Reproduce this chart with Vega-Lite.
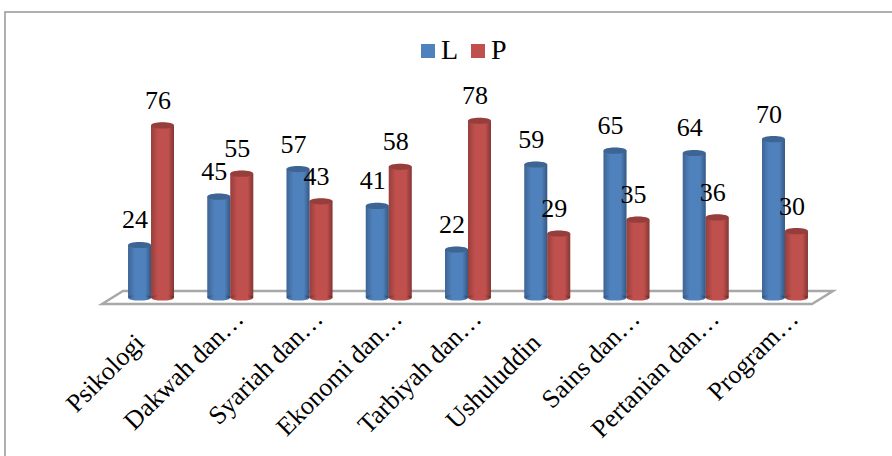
{
  "$schema": "https://vega.github.io/schema/vega-lite/v6.json",
  "autosize": {"type": "none"},
  "padding": {"left": 5, "top": 12, "right": 0, "bottom": 0},
  "width": 900,
  "height": 445,
  "background": "white",
  "view": {"stroke": "#969696", "strokeWidth": 1.5, "fill": "white"},
  "config": {"font": "Liberation Serif"},
  "datasets": {
    "counts": [
      {"fakultas": "Psikologi", "jk": "L", "n": 24},
      {"fakultas": "Psikologi", "jk": "P", "n": 76},
      {"fakultas": "Dakwah dan…", "jk": "L", "n": 45},
      {"fakultas": "Dakwah dan…", "jk": "P", "n": 55},
      {"fakultas": "Syariah dan…", "jk": "L", "n": 57},
      {"fakultas": "Syariah dan…", "jk": "P", "n": 43},
      {"fakultas": "Ekonomi dan…", "jk": "L", "n": 41},
      {"fakultas": "Ekonomi dan…", "jk": "P", "n": 58},
      {"fakultas": "Tarbiyah dan…", "jk": "L", "n": 22},
      {"fakultas": "Tarbiyah dan…", "jk": "P", "n": 78},
      {"fakultas": "Ushuluddin", "jk": "L", "n": 59},
      {"fakultas": "Ushuluddin", "jk": "P", "n": 29},
      {"fakultas": "Sains dan…", "jk": "L", "n": 65},
      {"fakultas": "Sains dan…", "jk": "P", "n": 35},
      {"fakultas": "Pertanian dan…", "jk": "L", "n": 64},
      {"fakultas": "Pertanian dan…", "jk": "P", "n": 36},
      {"fakultas": "Program…", "jk": "L", "n": 70},
      {"fakultas": "Program…", "jk": "P", "n": 30}
    ],
    "floor": [{"fakultas": "Tarbiyah dan…", "n": 0}]
  },
  "data": {"name": "counts"},
  "encoding": {
    "x": {
      "field": "fakultas",
      "type": "nominal",
      "title": null,
      "scale": {
        "domain": ["Psikologi", "Dakwah dan…", "Syariah dan…", "Ekonomi dan…", "Tarbiyah dan…", "Ushuluddin", "Sains dan…", "Pertanian dan…", "Program…"],
        "range": [106.4, 819.6],
        "paddingInner": 0.42,
        "paddingOuter": 0.21
      },
      "axis": {
        "offset": -152,
        "domain": false,
        "ticks": false,
        "labelAngle": -45,
        "labelAlign": "right",
        "labelBaseline": "top",
        "labelFont": "Liberation Serif",
        "labelFontSize": 26,
        "labelColor": "black",
        "labelLimit": 260,
        "labelOffset": {
          "condition": {"test": "datum.value === 'Psikologi' || datum.value === 'Ushuluddin'", "value": -20},
          "value": 0
        },
        "labelPadding": {
          "condition": {"test": "datum.value === 'Psikologi' || datum.value === 'Ushuluddin'", "value": 24},
          "value": 0
        },
        "grid": false
      }
    },
    "y": {
      "field": "n",
      "type": "quantitative",
      "title": null,
      "axis": null,
      "scale": {"domain": [0, 125.3], "range": [288.2, 0], "nice": false, "zero": true}
    }
  },
  "layer": [
    {
      "data": {"name": "floor"},
      "mark": {
        "type": "point",
        "filled": false,
        "size": 4,
        "shape": "M-366,3.8 L-345,-9.2 L365,-9.2 L344,3.8 Z",
        "stroke": "#a8a8a8",
        "strokeWidth": 2.5,
        "opacity": 1
      }
    },
    {
      "mark": {"type": "bar"},
      "encoding": {
        "y2": {"datum": 1.17},
        "xOffset": {"field": "jk", "type": "nominal", "sort": ["L", "P"]},
        "color": {
          "field": "jk",
          "type": "nominal",
          "scale": {"domain": ["L", "P"], "range": ["#4f81bd", "#c0504d"]},
          "legend": {
            "title": null,
            "orient": "none",
            "legendX": 409,
            "legendY": 25,
            "direction": "horizontal",
            "symbolType": "square",
            "symbolSize": 196,
            "symbolStrokeWidth": 0,
            "labelFont": "Liberation Serif",
            "labelFontSize": 28,
            "labelColor": "black",
            "labelOffset": -1,
            "columnPadding": 5
          }
        }
      }
    },
    {
      "mark": {
        "type": "point",
        "filled": true,
        "size": 529,
        "opacity": 1,
        "shape": "M-1,0 C-1,-0.36 1,-0.36 1,0 C1,0.36 -1,0.36 -1,0 Z"
      },
      "encoding": {
        "xOffset": {"field": "jk", "type": "nominal", "sort": ["L", "P"]},
        "y": {"datum": 1.17, "type": "quantitative"},
        "color": {"field": "jk", "type": "nominal"}
      }
    },
    {
      "mark": {
        "type": "bar",
        "fill": {
          "gradient": "linear",
          "x1": 0, "y1": 0, "x2": 1, "y2": 0,
          "stops": [
            {"offset": 0, "color": "rgba(0,0,0,0.22)"},
            {"offset": 0.3, "color": "rgba(0,0,0,0)"},
            {"offset": 0.75, "color": "rgba(0,0,0,0)"},
            {"offset": 1, "color": "rgba(0,0,0,0.32)"}
          ]
        }
      },
      "encoding": {
        "y2": {"datum": 1.17},
        "xOffset": {"field": "jk", "type": "nominal", "sort": ["L", "P"]}
      }
    },
    {
      "mark": {
        "type": "point",
        "filled": true,
        "size": 529,
        "opacity": 1,
        "fill": {
          "gradient": "linear",
          "x1": 0, "y1": 0, "x2": 1, "y2": 0,
          "stops": [
            {"offset": 0, "color": "rgba(0,0,0,0.22)"},
            {"offset": 0.3, "color": "rgba(0,0,0,0)"},
            {"offset": 0.75, "color": "rgba(0,0,0,0)"},
            {"offset": 1, "color": "rgba(0,0,0,0.32)"}
          ]
        },
        "shape": "M-1,0 C-1,-0.36 1,-0.36 1,0 C1,0.36 -1,0.36 -1,0 Z"
      },
      "encoding": {
        "xOffset": {"field": "jk", "type": "nominal", "sort": ["L", "P"]},
        "y": {"datum": 1.17, "type": "quantitative"}
      }
    },
    {
      "mark": {
        "type": "point",
        "filled": true,
        "size": 529,
        "opacity": 1,
        "shape": "M-1,0 C-1,-0.36 1,-0.36 1,0 C1,0.36 -1,0.36 -1,0 Z"
      },
      "encoding": {
        "xOffset": {"field": "jk", "type": "nominal", "sort": ["L", "P"]},
        "color": {"field": "jk", "type": "nominal"}
      }
    },
    {
      "mark": {
        "type": "point",
        "filled": true,
        "size": 529,
        "opacity": 1,
        "fill": "rgba(0,0,0,0.22)",
        "shape": "M-1,0 C-1,-0.36 1,-0.36 1,0 C1,0.36 -1,0.36 -1,0 Z"
      },
      "encoding": {
        "xOffset": {"field": "jk", "type": "nominal", "sort": ["L", "P"]}
      }
    },
    {
      "mark": {
        "type": "text",
        "font": "Liberation Serif",
        "fontSize": 26,
        "color": "black",
        "dx": -4.5,
        "dy": -24.5,
        "align": "center",
        "baseline": "middle"
      },
      "encoding": {
        "xOffset": {"field": "jk", "type": "nominal", "sort": ["L", "P"]},
        "text": {"field": "n", "type": "quantitative"}
      }
    }
  ]
}
